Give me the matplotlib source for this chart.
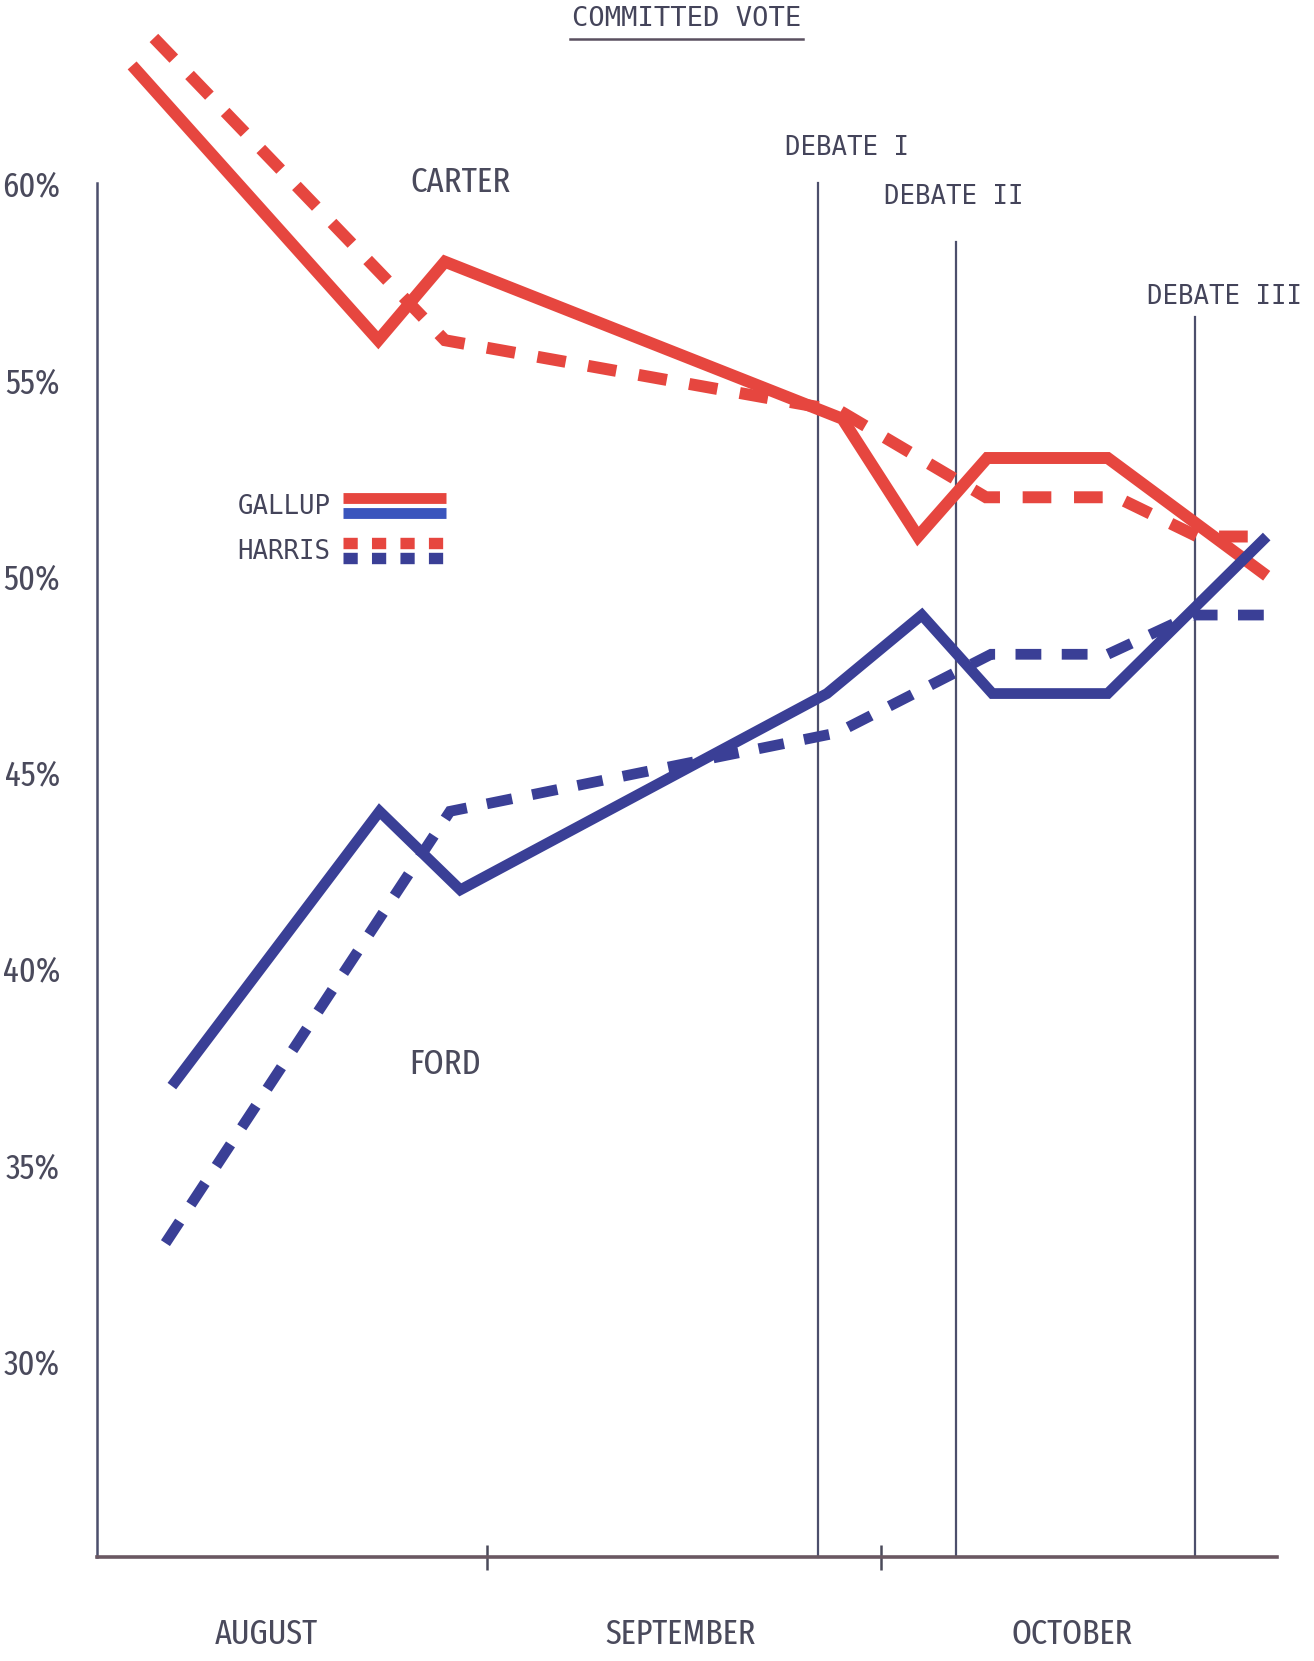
import matplotlib
matplotlib.use("Agg")
import matplotlib.pyplot as plt
from matplotlib import font_manager
from matplotlib.lines import Line2D
from matplotlib.legend_handler import HandlerBase
from matplotlib.transforms import IdentityTransform

# ---------------- data (x = days since Aug 1, y = percent) ----------------
carter_gallup_day = [2.7, 21.9, 27.1, 58.1, 64.0, 69.4, 78.8, 91.2]
carter_gallup_pct = [63, 56, 58, 54, 51, 53, 53, 50]
carter_harris_day = [4.4, 27.1, 57.9, 69.3, 79.5, 85.8, 91.3]
carter_harris_pct = [63.7, 56, 54.2, 52, 52, 51, 51]
ford_gallup_day = [5.8, 22.0, 28.3, 56.9, 64.3, 69.8, 78.8, 91.2]
ford_gallup_pct = [37, 44, 42, 47, 49, 47, 47, 51]
ford_harris_day = [5.3, 27.5, 57.7, 69.7, 78.8, 85.4, 91.3]
ford_harris_pct = [33, 44, 46, 48, 48, 49, 49]

debate_names = ["DEBATE I", "DEBATE II", "DEBATE III"]
debate_day = [56.2, 67.0, 85.6]
debate_top = [60, 58.5, 56.6]
debate_label_day = [58.5, 66.8, 87.9]
debate_label_pct = [60.9, 59.65, 57.1]

month_names = ["AUGUST", "SEPTEMBER", "OCTOBER"]
month_centers = [13.2, 45.5, 76.0]
month_bounds = [30.4, 61.1]
y_ticks = [30, 35, 40, 45, 50, 55, 60]
y_ticklabels = ["30%", "35%", "40%", "45%", "50%", "55%", "60%"]

# ---------------- style ----------------
names = {f.name for f in font_manager.fontManager.ttflist}
NARROW = "DejaVu Sans"
for pref in ["Fira Sans Extra Condensed", "Roboto Condensed", "Barlow Condensed"]:
    if pref in names:
        NARROW = pref
        break
MONO = "DejaVu Sans Mono"
RED = "#e6463f"
BLUE = "#3a3f96"
BLUE_LEG = "#3a55bd"
INK = "#44445a"
AXIS = "#4c4f6c"

fig = plt.figure(figsize=(13.14, 16.61), dpi=100)
fig.patch.set_facecolor("white")
ax = fig.add_axes([0.0742, 0.0625, 0.8976, 0.8272])
ax.set_xlim(0, 92)
ax.set_ylim(25, 60)

LW = 8.6
DASH = (0, (2.4, 1.9))
common = dict(solid_joinstyle="miter", solid_capstyle="butt",
              dash_capstyle="butt", dash_joinstyle="miter", clip_on=False, zorder=3)
ax.plot(carter_gallup_day, carter_gallup_pct, color=RED, lw=LW, **common)
ax.plot(carter_harris_day, carter_harris_pct, color=RED, lw=LW, linestyle=DASH, **common)
ax.plot(ford_gallup_day, ford_gallup_pct, color=BLUE, lw=LW * 0.9, **common)
ax.plot(ford_harris_day, ford_harris_pct, color=BLUE, lw=LW * 0.9, linestyle=DASH, **common)

for name, d, top, ld, lp in zip(debate_names, debate_day, debate_top,
                                 debate_label_day, debate_label_pct):
    ax.plot([d, d], [25, top], color=AXIS, lw=1.6, zorder=2, clip_on=False)
    ax.text(ld, lp, name, family=MONO, fontsize=18.5, color=INK,
            ha="center", va="center")

nf = dict(family=NARROW, fontweight="normal", color="#4a4a5c")
ax.text(28.3, 60.03, "CARTER", fontsize=25.5, ha="center", va="center", **nf)
ax.text(27.1, 37.55, "FORD", fontsize=25.5, ha="center", va="center", **nf)

for s in ["top", "right"]:
    ax.spines[s].set_visible(False)
ax.spines["left"].set_color(AXIS)
ax.spines["left"].set_linewidth(1.8)
ax.spines["bottom"].set_color("#6a5862")
ax.spines["bottom"].set_linewidth(2.6)

ax.set_yticks(y_ticks)
ax.set_yticklabels(y_ticklabels, fontsize=25.5, **nf)
ax.tick_params(axis="y", length=0, pad=27)

ax.set_xticks(month_bounds)
ax.set_xticklabels(["", ""])
ax.tick_params(axis="x", which="major", direction="inout", length=18,
               width=1.8, color="#4a4a5a")
ax.set_xticks(month_centers, minor=True)
ax.set_xticklabels(month_names, minor=True, fontsize=25, **nf)
ax.tick_params(axis="x", which="minor", length=0, pad=43)


class TwoTone(HandlerBase):
    def __init__(self, ls, lw, **kw):
        super().__init__(**kw)
        self.ls = ls
        self.lw = lw

    def create_artists(self, legend, orig_handle, xdescent, ydescent,
                       width, height, fontsize, trans):
        arts = []
        yc = height / 2 - ydescent
        for c, off in [(RED, 5.3), (BLUE_LEG if self.ls == "-" else BLUE, -5.3)]:
            l = Line2D([-xdescent, -xdescent + width], [yc + off, yc + off],
                       color=c, lw=self.lw, linestyle=self.ls,
                       solid_capstyle="butt", dash_capstyle="butt")
            l.set_transform(trans)
            arts.append(l)
        return arts


h_gallup = Line2D([], [])
h_harris = Line2D([], [])
leg = fig.legend([h_gallup, h_harris], ["GALLUP", "HARRIS"],
                 handler_map={h_gallup: TwoTone("-", 7.8),
                              h_harris: TwoTone((0, (1.25, 1.25)), 8.2)},
                 loc="center", bbox_to_anchor=(0.26, 0.681),
                 bbox_transform=fig.transFigure, frameon=False,
                 markerfirst=False, handlelength=4.0, handletextpad=0.5,
                 labelspacing=0.75, prop={"family": MONO, "size": 18.5})
for t in leg.get_texts():
    t.set_color(INK)

title = fig.text(0.5226, 0.9885, "COMMITTED VOTE", family=MONO, fontsize=19.5,
                 color=INK, ha="center", va="center")

fig.canvas.draw()
bb = title.get_window_extent()
fig.add_artist(Line2D([bb.x0 - 2, bb.x1 + 2], [bb.y0 - 7, bb.y0 - 7],
                      transform=IdentityTransform(), color="#5a5060", lw=1.8))

fig.savefig("out.png", dpi=100)
